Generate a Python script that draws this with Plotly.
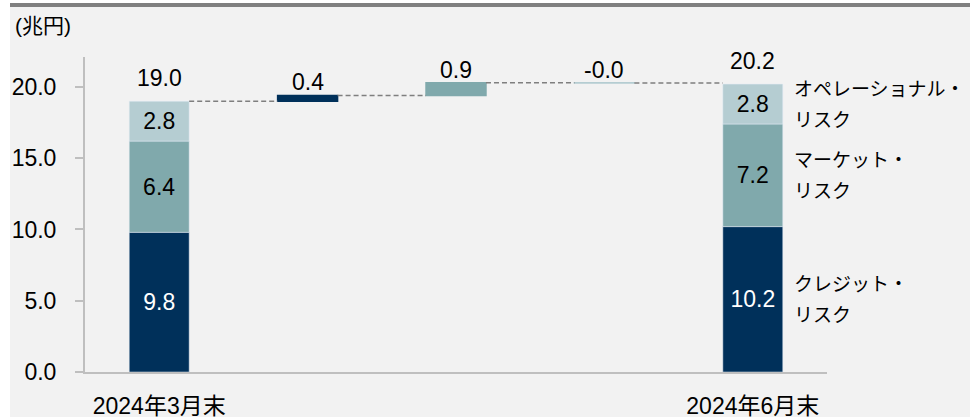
import plotly.graph_objects as go

# ---- data ----
x_tick_labels = ["2024年3月末", "2024年6月末"]
credit_vals = [9.8, 10.2]          # クレジット・リスク
market_vals = [6.4, 7.2]          # マーケット・リスク
op_vals = [2.8, 2.8]              # オペレーショナル・リスク
total_vals = [19.0, 20.2]
change_vals = [0.4, 0.9, -0.02]   # credit, market, operational changes
change_labels = ["0.4", "0.9", "-0.0"]
risk_names = [["クレジット・", "リスク"], ["マーケット・", "リスク"], ["オペレーショナル・", "リスク"]]
y_ticks = [0, 5, 10, 15, 20]
unit_label = "(兆円)"

# ---- style ----
W, H = 971, 418
ML, MR, MT, MB = 85, 144, 57, 46
PW, PH = W - ML - MR, H - MT - MB
NAVY, TEAL, LIGHT = "#00305a", "#80a9ac", "#b5cdd2"
GRID = "#bfbfbf"
FONT = "Liberation Sans, Arial, Noto Sans CJK JP"
NUM = 23
BW = 0.404

xs_end = [0, 4]
xs_chg = [1, 2, 3]

fig = go.Figure()
fig.add_trace(go.Bar(x=xs_end, y=credit_vals, base=[0, 0], width=BW, marker_color=NAVY,
                     text=[f"{v:.1f}" for v in credit_vals], textposition="inside",
                     insidetextanchor="middle", textangle=0,
                     textfont=dict(color="white", size=NUM, family=FONT)))
base_m = credit_vals
fig.add_trace(go.Bar(x=xs_end, y=market_vals, base=base_m, width=BW, marker_color=TEAL,
                     text=[f"{v:.1f}" for v in market_vals], textposition="inside",
                     insidetextanchor="middle", textangle=0,
                     textfont=dict(color="black", size=NUM, family=FONT)))
base_o = [c + m for c, m in zip(credit_vals, market_vals)]
fig.add_trace(go.Bar(x=xs_end, y=op_vals, base=base_o, width=BW, marker_color=LIGHT,
                     text=[f"{v:.1f}" for v in op_vals], textposition="inside",
                     insidetextanchor="middle", textangle=0,
                     textfont=dict(color="black", size=NUM, family=FONT)))

# floating change bars
bases = []
level = total_vals[0]
for v in change_vals:
    bases.append(level)
    level += v
chg_colors = [NAVY, TEAL, LIGHT]
fig.add_trace(go.Bar(x=xs_chg, y=change_vals, base=bases, width=BW,
                     marker=dict(color=chg_colors, line=dict(color=chg_colors, width=1.5))))

annotations = []
# totals
for xi, t in zip(xs_end, total_vals):
    annotations.append(dict(x=xi, y=t, xref="x", yref="y", text=f"{t:.1f}", showarrow=False,
                            yanchor="bottom", yshift=8, font=dict(size=NUM, family=FONT, color="black")))
# change labels
for xi, b, v, lab in zip(xs_chg, bases, change_vals, change_labels):
    annotations.append(dict(x=xi, y=max(b, b + v), xref="x", yref="y", text=lab, showarrow=False,
                            yanchor="bottom", yshift=-2, font=dict(size=NUM, family=FONT, color="black")))
# right-side risk labels
mids = [credit_vals[1] / 2, credit_vals[1] + market_vals[1] / 2,
        credit_vals[1] + market_vals[1] + op_vals[1] / 2]
for mid, (l1, l2) in zip(mids, risk_names):
    for txt, ys in ((l1, 15), (l2, -16)):
        annotations.append(dict(x=4, y=mid, xref="x", yref="y", text=txt, showarrow=False,
                                xanchor="left", yanchor="middle", xshift=39, yshift=ys,
                                font=dict(size=19, family=FONT, color="black")))
# unit label
annotations.append(dict(x=0, y=1, xref="paper", yref="paper", text=unit_label, showarrow=False,
                        xanchor="left", yanchor="middle", xshift=-72, yshift=32,
                        font=dict(size=21, family=FONT, color="black")))

shapes = []
# connectors
levels = [total_vals[0]] + [b + v for b, v in zip(bases, change_vals)]
for i, lv in enumerate(levels):
    shapes.append(dict(type="line", xref="x", yref="y", x0=i + BW / 2, x1=i + 1 - BW / 2,
                       y0=lv, y1=lv, line=dict(color="#7f7f7f", width=1.5, dash="5px,3px")))

def px_x(p):
    return (p - ML) / PW

def px_y(p):
    return (H - MB - p) / PH

# background panel and top rule (page pixel coords)
shapes.append(dict(type="rect", xref="paper", yref="paper", x0=px_x(10), x1=px_x(970),
                   y0=px_y(417), y1=px_y(7), fillcolor="#f2f2f2", line=dict(width=0), layer="below"))
shapes.append(dict(type="rect", xref="paper", yref="paper", x0=px_x(10), x1=px_x(970),
                   y0=px_y(7), y1=px_y(3), fillcolor="#808080", line=dict(width=0), layer="below"))

fig.update_layout(
    width=W, height=H, margin=dict(l=ML, r=MR, t=MT, b=MB, pad=0, autoexpand=False),
    paper_bgcolor="white", plot_bgcolor="rgba(0,0,0,0)",
    barmode="overlay", showlegend=False,
    font=dict(family=FONT, size=20, color="black"),
    annotations=annotations, shapes=shapes,
    xaxis=dict(range=[-0.5, 4.5], tickvals=xs_end, ticktext=x_tick_labels, automargin=False,
               showgrid=False, zeroline=False, showline=True, linecolor=GRID, linewidth=2,
               ticks="", ticklabelstandoff=12, tickfont=dict(size=23, family=FONT, color="black")),
    yaxis=dict(range=[0, 22.1], tickvals=y_ticks, ticktext=[f"{v:.1f}" for v in y_ticks],
               automargin=False,
               showgrid=False, zeroline=False, showline=True, linecolor=GRID, linewidth=2,
               ticks="outside", ticklen=8, tickcolor=GRID, tickwidth=2, ticklabelstandoff=14,
               tickfont=dict(size=NUM, family=FONT, color="black")),
)

fig.write_html("out.html", config={"displayModeBar": False},
               post_script="document.body.style.margin='0';document.body.style.overflow='hidden';")
